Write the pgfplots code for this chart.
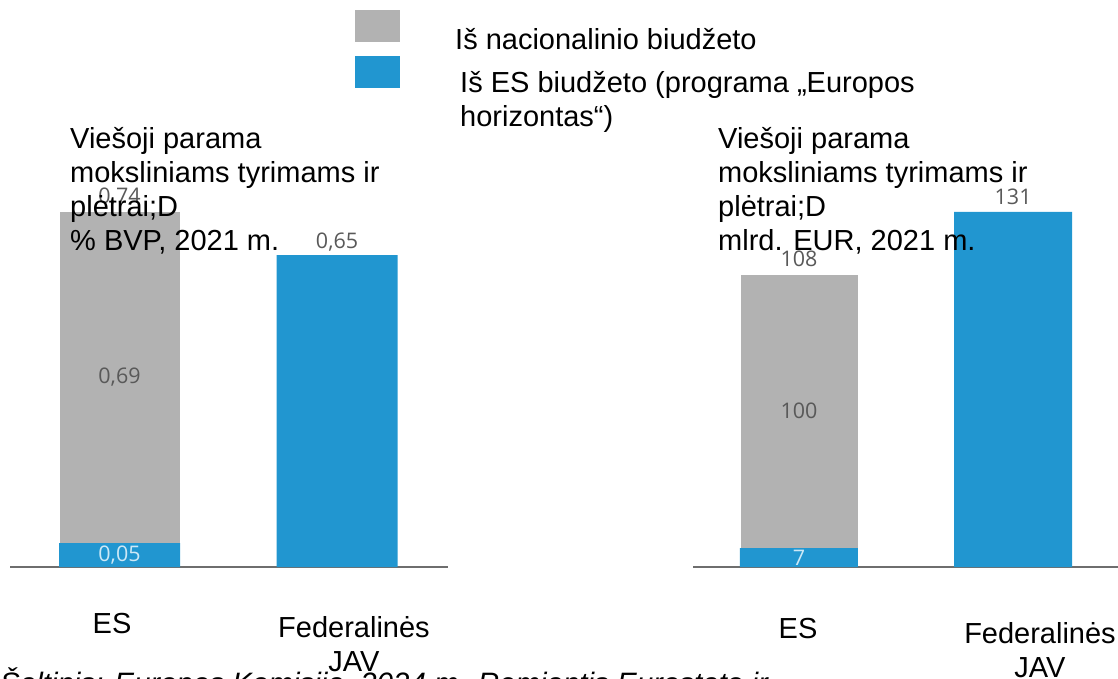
\documentclass[border=0pt]{standalone}
\usepackage{pgfplots}
\pgfplotsset{compat=1.18}
\usepackage{fontspec}
\setmainfont{Liberation Sans}
\newfontfamily\lblfont{Open Sans}
\definecolor{esblue}{RGB}{33,150,208}
\definecolor{natgray}{RGB}{178,178,178}
\definecolor{lblgray}{RGB}{89,89,89}
\definecolor{lblwhite}{RGB}{205,232,246}
\definecolor{axgray}{RGB}{110,110,110}
\begin{document}
\begin{tikzpicture}
\useasboundingbox (0pt,0pt) rectangle (1118pt,-679pt);
\clip (0pt,0pt) rectangle (1118pt,-679pt);
\tikzset{
  main/.style={font=\fontsize{29}{34}\selectfont, anchor=base west, inner sep=0pt, align=left},
  cat/.style={font=\fontsize{29}{34}\selectfont, anchor=base, inner sep=0pt, align=center},
  val/.style={font=\lblfont\fontsize{21.5}{25}\selectfont, text=lblgray, inner sep=0pt},
}
% ---------- left chart: % BVP ----------
\begin{axis}[
  at={(10pt,-567pt)}, anchor=south west,
  scale only axis, width=438pt, height=384pt,
  xmin=-0.5034, xmax=1.510, ymin=0, ymax=0.8,
  hide axis, clip=false,
  ybar stacked, bar width=121pt,
]
\addplot[fill=esblue, draw=none] coordinates {(0,0.05) (1,0.65)};
\addplot[fill=natgray, draw=white, line width=0.8pt] coordinates {(0,0.69) (1,0)};
\draw[axgray, line width=1.5pt] (axis cs:-0.5034,0) -- (axis cs:1.510,0);
\coordinate (L74) at (axis cs:0,0.74);
\coordinate (L65) at (axis cs:1,0.65);
\coordinate (L69) at (axis cs:0,0.395);
\coordinate (L05) at (axis cs:0,0.025);
\end{axis}
% ---------- right chart: mlrd. EUR ----------
\begin{axis}[
  at={(693pt,-567pt)}, anchor=south west,
  scale only axis, width=425pt, height=379.4pt,
  xmin=-0.495, xmax=1.49, ymin=0, ymax=140,
  hide axis, clip=false,
  ybar stacked, bar width=118pt,
]
\addplot[fill=esblue, draw=none] coordinates {(0,7) (1,131)};
\addplot[fill=natgray, draw=white, line width=0.8pt] coordinates {(0,101) (1,0)};
\draw[axgray, line width=1.5pt] (axis cs:-0.495,0) -- (axis cs:1.6,0);
\coordinate (R108) at (axis cs:0,108);
\coordinate (R131) at (axis cs:1,131);
\coordinate (R100) at (axis cs:0,57.5);
\coordinate (R7) at (axis cs:0,3.5);
\end{axis}
% ---------- value labels ----------
\node[val, anchor=base] at ([yshift=8pt]L74) {0,74};
\node[val, anchor=base] at ([yshift=7pt]L65) {0,65};
\node[val, anchor=center] at (L69) {0,69};
\node[val, anchor=center, text=lblwhite] at (L05) {0,05};
\node[val, anchor=base] at ([yshift=8pt]R108) {108};
\node[val, anchor=base] at ([yshift=7pt]R131) {131};
\node[val, anchor=center] at (R100) {100};
\node[val, anchor=center, text=lblwhite] at (R7) {7};
% ---------- legend ----------
\fill[natgray] (355pt,-10pt) rectangle (400pt,-42pt);
\fill[esblue] (355pt,-56pt) rectangle (400pt,-88pt);
\node[main] at (455pt,-50pt) {Iš nacionalinio biudžeto};
\node[main] at (460pt,-127pt) {Iš ES biudžeto (programa „Europos\\horizontas“)};
% ---------- titles ----------
\node[main] at (70pt,-250pt) {Viešoji parama\\moksliniams tyrimams ir\\plėtrai;D\\\% BVP, 2021 m.};
\node[main] at (718pt,-250pt) {Viešoji parama\\moksliniams tyrimams ir\\plėtrai;D\\mlrd. EUR, 2021 m.};
% ---------- category labels ----------
\node[cat] at (112pt,-633pt) {ES};
\node[cat] at (354pt,-671pt) {Federalinės\\JAV};
\node[cat] at (798pt,-638pt) {ES};
\node[cat] at (1040pt,-677pt) {Federalinės\\JAV};
% ---------- source ----------
\node[main, font=\itshape\fontsize{29.5}{34}\selectfont] at (0pt,-693pt) {Šaltinis: Europos Komisija, 2024 m. Remiantis Eurostato ir};
\end{tikzpicture}
\end{document}
